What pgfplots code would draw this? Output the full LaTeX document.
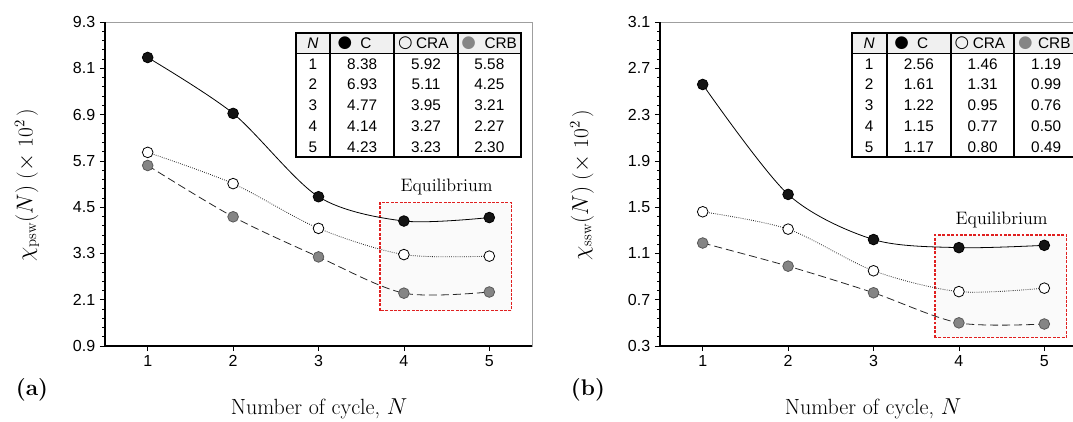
\documentclass[border=0pt]{standalone}
\usepackage{pgfplots}
\pgfplotsset{compat=1.18}
\usepackage{fontspec}
\newfontfamily\arial{Liberation Sans}
\newfontfamily\dejavu{DejaVu Sans}
\newcommand{\PX}[2]{({(#1)*0.75pt},{(421-(#2))*0.75pt})}
\newcommand{\tabfont}{\arial\fontsize{11.5}{14}\selectfont}
\newcommand{\glyphfont}{\dejavu\fontsize{12.5}{14}\selectfont}
\definecolor{crbgray}{HTML}{858585}
\definecolor{eqred}{HTML}{E02020}
\tikzset{eqbox/.style={draw=eqred, line width=0.85pt, dash pattern=on 2.2pt off 1.1pt}}

\pgfplotstableread{
N C CRA CRB
1 8.38 5.92 5.58
2 6.93 5.11 4.25
3 4.77 3.95 3.21
4 4.14 3.27 2.27
5 4.23 3.23 2.30
}\tabA
\pgfplotstableread{
N C CRA CRB
1 2.56 1.46 1.19
2 1.61 1.31 0.99
3 1.22 0.95 0.76
4 1.15 0.77 0.50
5 1.17 0.80 0.49
}\tabB

% table drawing: x0 x1 x2 x3 x4 crb-offset
\newcommand{\tablehead}[6]{%
  \fill[white] \PX{#1}{32.7} rectangle \PX{#5}{157.3};
  \fill[gray!12] \PX{#1}{32.7} rectangle \PX{#5}{53.4};
  \draw[line width=0.5pt] \PX{#1}{53.4} -- \PX{#5}{53.4};
  \draw[line width=1.3pt] \PX{#1}{32.7} rectangle \PX{#5}{157.3};
  \foreach \xx in {#2,#3,#4} {\draw[line width=1.3pt] \PX{\xx}{32.7} -- \PX{\xx}{157.3};}
  \node[font=\tabfont\itshape] at \PX{(#1+#2)/2}{43.5} {N};
  \node[font=\glyphfont, text=black] at \PX{#2+15}{43.5} {●};
  \node[font=\tabfont] at \PX{#2+36}{43.5} {C};
  \node[font=\glyphfont] at \PX{#3+11}{43.5} {○};
  \node[font=\tabfont] at \PX{#3+38}{43.5} {CRA};
  \node[font=\glyphfont, text=crbgray] at \PX{#4+11}{43.5} {●};
  \node[font=\tabfont] at \PX{#4+#6}{43.5} {CRB};
}
\newcommand{\tablerows}[6]{% x0 x1 x2 x3 x4 rows
  \foreach \n/\a/\b/\c [count=\i] in {#6} {
    \node[font=\tabfont] at \PX{(#1+#2)/2}{53.4+(\i-0.5)*20.78} {\n};
    \node[font=\tabfont] at \PX{(#2+#3)/2}{53.4+(\i-0.5)*20.78} {\a};
    \node[font=\tabfont] at \PX{(#3+#4)/2}{53.4+(\i-0.5)*20.78} {\b};
    \node[font=\tabfont] at \PX{(#4+#5)/2}{53.4+(\i-0.5)*20.78} {\c};
  }
}

\pgfplotsset{
  panel/.style={
    scale only axis, width=320.25pt, height=243pt, anchor=south west,
    xmin=0.5, xmax=5.5, xtick={1,2,3,4,5},
    minor y tick num=4,
    xtick pos=bottom, ytick pos=left,
    tick align=outside,
    major tick length=3.8pt, minor tick length=2.2pt,
    tick style={black, line width=0.5pt},
    axis line style={draw=gray!75, line width=0.6pt},
    tick label style={font=\arial\fontsize{12}{14}\selectfont},
    /pgf/number format/assume math mode=true,
    yticklabel style={/pgf/number format/.cd, fixed, fixed zerofill, precision=1},
    clip=false,
  },
  cC/.style={black, line width=0.6pt, smooth, mark=*, mark size=4pt,
    mark options={solid, fill=black!92, draw=black}},
  cA/.style={black!85, line width=0.6pt, densely dotted, smooth, mark=*, mark size=4pt,
    mark options={solid, fill=white, draw=black, line width=0.6pt}},
  cB/.style={black!85, line width=0.6pt, dash pattern=on 6pt off 3pt, smooth, mark=*, mark size=4pt,
    mark options={solid, fill=crbgray, draw=black!65, line width=0.6pt}},
}

\begin{document}
\begin{tikzpicture}
% ---------- panel (a)
\begin{axis}[panel, at={(78.75pt,56.25pt)},
  ymin=0.9, ymax=9.3, ytick={0.9,2.1,3.3,4.5,5.7,6.9,8.1,9.3}]
  \fill[gray!4] (axis cs:3.72,1.82) rectangle (axis cs:5.26,4.62);
  \draw[eqbox] (axis cs:3.72,1.82) rectangle (axis cs:5.26,4.62);
  \node[font=\fontsize{13.5}{15}\selectfont] at (axis cs:4.5,5.01) {Equilibrium};
  \addplot[cC] table[x=N, y=C] {\tabA};
  \addplot[cA] table[x=N, y=CRA] {\tabA};
  \addplot[cB] table[x=N, y=CRB] {\tabA};
  \draw[black, line width=0.8pt] (rel axis cs:0,1) -- (rel axis cs:0,0) -- (rel axis cs:1,0);
\end{axis}
% ---------- panel (b)
\begin{axis}[panel, at={(495pt,56.25pt)},
  ymin=0.3, ymax=3.1, ytick={0.3,0.7,1.1,1.5,1.9,2.3,2.7,3.1}]
  \fill[gray!4] (axis cs:3.72,0.372) rectangle (axis cs:5.26,1.259);
  \draw[eqbox] (axis cs:3.72,0.372) rectangle (axis cs:5.26,1.259);
  \node[font=\fontsize{13.5}{15}\selectfont] at (axis cs:4.5,1.389) {Equilibrium};
  \addplot[cC] table[x=N, y=C] {\tabB};
  \addplot[cA] table[x=N, y=CRA] {\tabB};
  \addplot[cB] table[x=N, y=CRB] {\tabB};
  \draw[black, line width=0.8pt] (rel axis cs:0,1) -- (rel axis cs:0,0) -- (rel axis cs:1,0);
\end{axis}
% ---------- tables
\tablehead{296}{330}{394.3}{457.7}{521}{43}
\tablerows{296}{330}{394.3}{457.7}{521}{1/8.38/5.92/5.58, 2/6.93/5.11/4.25, 3/4.77/3.95/3.21, 4/4.14/3.27/2.27, 5/4.23/3.23/2.30}
\tablehead{851.7}{886.7}{951}{1014.3}{1078}{40}
\tablerows{851.7}{886.7}{951}{1014.3}{1078}{1/2.56/1.46/1.19, 2/1.61/1.31/0.99, 3/1.22/0.95/0.76, 4/1.15/0.77/0.50, 5/1.17/0.80/0.49}
% ---------- labels
\node[rotate=90, font=\fontsize{16}{18}\selectfont] at \PX{27}{185} {$\chi_{\mathrm{psw}}(N)$ ($\times$ 10$^{2}$\,)};
\node[rotate=90, font=\fontsize{16}{18}\selectfont] at \PX{582}{185} {$\chi_{\mathrm{ssw}}(N)$ ($\times$ 10$^{2}$\,)};
\node[font=\fontsize{16.5}{18}\selectfont] at \PX{319}{409} {Number of cycle, $N$};
\node[font=\fontsize{16.5}{18}\selectfont] at \PX{873}{409} {Number of cycle, $N$};
\node[font=\bfseries\fontsize{17}{19}\selectfont] at \PX{32}{390} {(a)};
\node[font=\bfseries\fontsize{17}{19}\selectfont] at \PX{588}{390} {(b)};
\pgfresetboundingbox
\useasboundingbox (0,0) rectangle (804.75pt,315.75pt);
\end{tikzpicture}
\end{document}
